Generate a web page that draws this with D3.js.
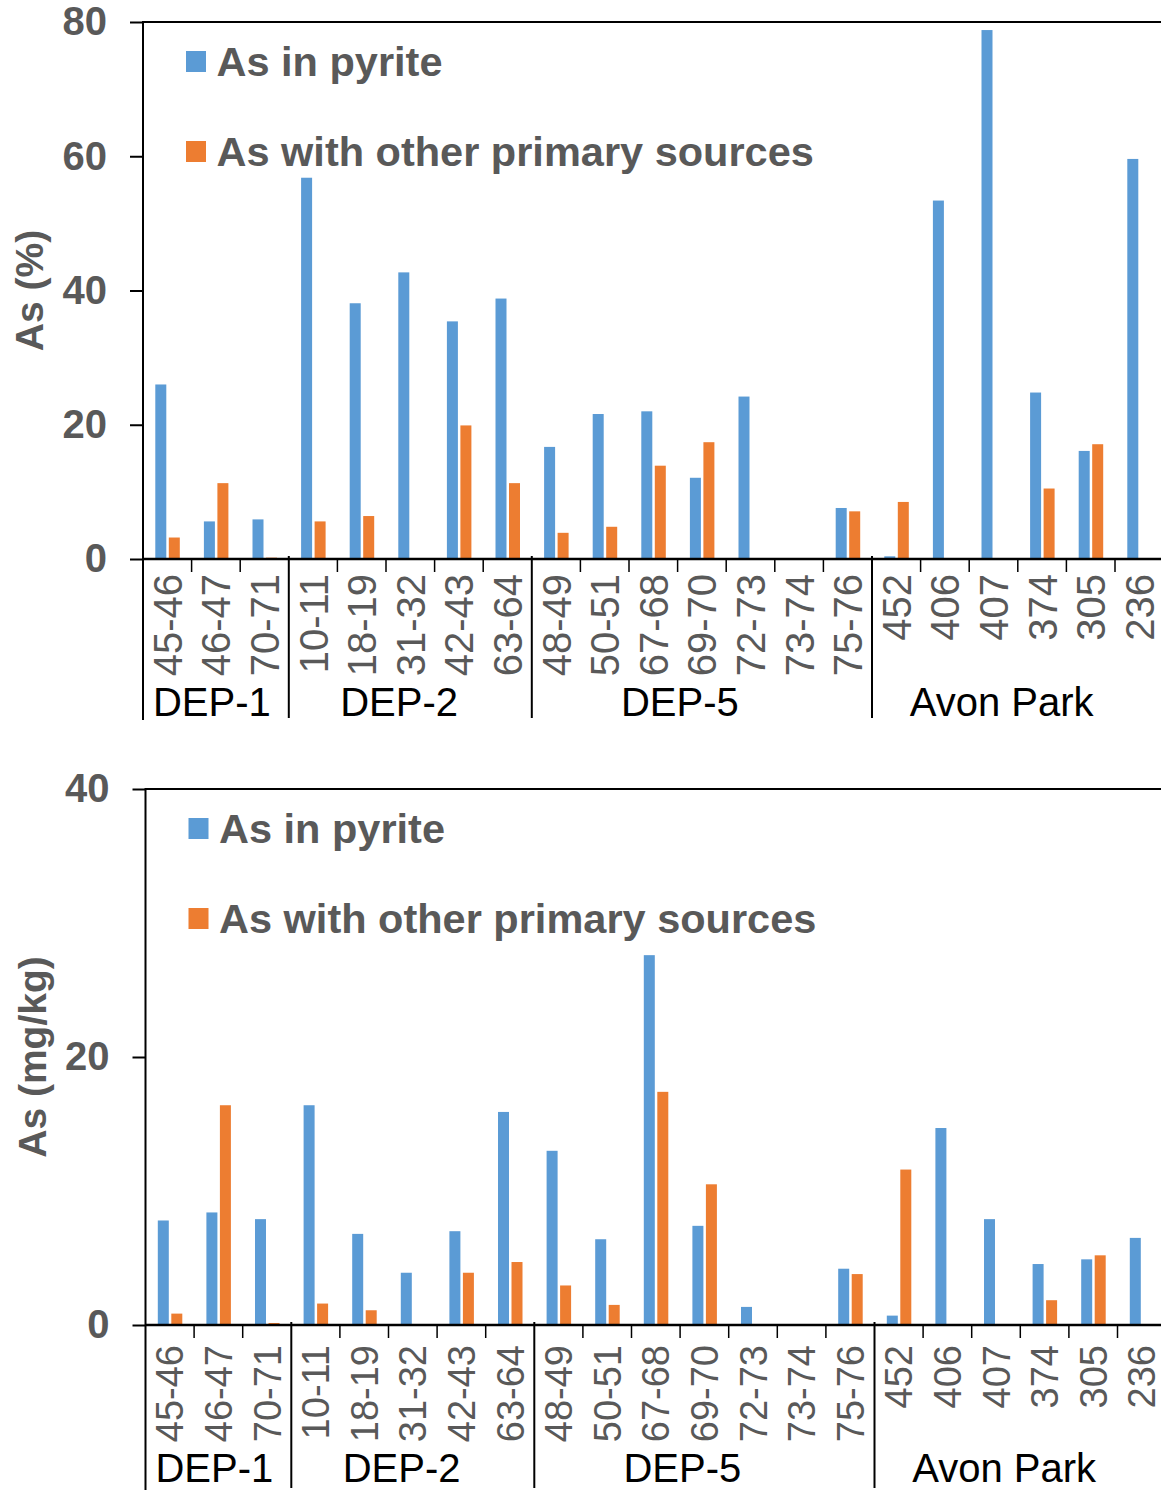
<!DOCTYPE html>
<html>
<head>
<meta charset="utf-8">
<script src="https://cdn.jsdelivr.net/npm/d3@7"></script>
<style>
  html, body { margin: 0; padding: 0; background: #fff; }
  svg { display: block; }
  text { font-family: "Liberation Sans", Arial, sans-serif; }
</style>
</head>
<body>
<svg id="chart" width="1161" height="1494"></svg>
<script>
// Sample intervals (depth, ft) and Avon Park sample IDs
const categories = ["45-46","46-47","70-71","10-11","18-19","31-32","42-43","63-64",
  "48-49","50-51","67-68","69-70","72-73","73-74","75-76",
  "452","406","407","374","305","236"];
const groupNames = ["DEP-1", "DEP-2", "DEP-5", "Avon Park"];
const groupSizes = [3, 5, 7, 6];
const seriesNames = ["As in pyrite", "As with other primary sources"];

// Share of total As (%)
const pctPyrite = [26.0, 5.6, 5.9, 56.8, 38.1, 42.7, 35.4, 38.8, 16.7, 21.6, 22.0, 12.1, 24.2, 0, 7.6, 0.4, 53.4, 78.8, 24.8, 16.1, 59.6];
const pctOther  = [3.2, 11.3, 0.2, 5.6, 6.4, 0, 19.9, 11.3, 3.9, 4.8, 13.9, 17.4, 0, 0, 7.1, 8.5, 0, 0, 10.5, 17.1, 0];

// Concentration (mg/kg)
const mgPyrite = [7.8, 8.4, 7.9, 16.4, 6.8, 3.9, 7.0, 15.9, 13.0, 6.4, 27.6, 7.4, 1.35, 0, 4.2, 0.7, 14.7, 7.9, 4.55, 4.9, 6.5];
const mgOther  = [0.85, 16.4, 0.15, 1.6, 1.1, 0, 3.9, 4.7, 2.95, 1.5, 17.4, 10.5, 0, 0, 3.8, 11.6, 0, 0, 1.85, 5.2, 0];

const pctTicks = [0, 20, 40, 60, 80];
const mgTicks = [0, 20, 40];

const COLORS = ["#5B9BD5", "#ED7D31"];
const GREY = "#595959";

const svg = d3.select("#chart");

const panels = [
  { top: 22, zero: 559, left: 143, max: 80, ticks: pctTicks, lowEnd: 720,
    title: "As (%)", series: [pctPyrite, pctOther], catFont: 40, catGap: 15, groupY: 716 },
  { top: 789, zero: 1325, left: 145.5, max: 40, ticks: mgTicks, lowEnd: 1490,
    title: "As (mg/kg)", series: [mgPyrite, mgOther], catFont: 38, catGap: 20, groupY: 1482 }
];

panels.forEach(p => {
  const g = svg.append("g");
  const band = 48.6;
  const x = d3.scaleBand().domain(categories).range([p.left, p.left + band * categories.length]).padding(0);
  const y = d3.scaleLinear().domain([0, p.max]).range([p.zero, p.top]);
  const bw = x.bandwidth();
  const right = x.range()[1];

  // bars: two series side by side around each band centre
  const offsets = [[-12, 11], [1.5, 11]];
  p.series.forEach((vals, s) => {
    g.append("g").selectAll("rect")
      .data(categories.map((c, i) => ({ c, v: vals[i] })).filter(d => d.v > 0))
      .join("rect")
      .attr("x", d => x(d.c) + bw / 2 + offsets[s][0])
      .attr("width", offsets[s][1])
      .attr("y", d => y(d.v))
      .attr("height", d => y(0) - y(d.v))
      .attr("fill", COLORS[s]);
  });

  // y axis with ticks and labels
  const yAxis = d3.axisLeft(y).tickValues(p.ticks).tickSize(13).tickPadding(23).tickSizeOuter(0);
  const ya = g.append("g").attr("transform", `translate(${p.left},0)`).call(yAxis);
  ya.select(".domain").remove();
  ya.selectAll(".tick line").attr("stroke", "#000").attr("stroke-width", 2);
  ya.selectAll(".tick text")
    .attr("fill", GREY).attr("font-size", 40).attr("font-weight", "bold")
    .style("font-family", '"Liberation Sans", Arial, sans-serif');

  // plot frame: top and right edges, left edge running down through the category labels
  g.append("line").attr("x1", p.left).attr("x2", right).attr("y1", p.top).attr("y2", p.top)
    .attr("stroke", "#000").attr("stroke-width", 2);
  g.append("line").attr("x1", right).attr("x2", right).attr("y1", p.top).attr("y2", p.zero)
    .attr("stroke", "#000").attr("stroke-width", 2);
  g.append("line").attr("x1", p.left).attr("x2", p.left).attr("y1", p.top - 1).attr("y2", p.lowEnd)
    .attr("stroke", "#000").attr("stroke-width", 2);

  // baseline
  g.append("line").attr("x1", p.left).attr("x2", right).attr("y1", y(0)).attr("y2", y(0))
    .attr("stroke", "#000").attr("stroke-width", 2.5);

  // category boundary ticks and group separators
  const groupStarts = [];
  let acc = 0;
  groupSizes.forEach(n => { groupStarts.push(acc); acc += n; });
  categories.forEach((c, i) => {
    if (i === 0) return;
    const isGroup = groupStarts.includes(i);
    g.append("line")
      .attr("x1", x(c)).attr("x2", x(c))
      .attr("y1", isGroup ? y(0) - 3 : y(0))
      .attr("y2", isGroup ? p.lowEnd - 2 : y(0) + 13)
      .attr("stroke", "#000").attr("stroke-width", isGroup ? 2 : 1.5);
  });

  // rotated category labels
  g.append("g").selectAll("text").data(categories).join("text")
    .attr("transform", c => `translate(${x(c) + bw / 2 + p.catFont * 0.36},${y(0) + p.catGap}) rotate(-90)`)
    .attr("text-anchor", "end")
    .attr("font-size", p.catFont)
    .attr("fill", GREY)
    .text(c => c);

  // group labels
  groupNames.forEach((name, k) => {
    const first = categories[groupStarts[k]];
    const last = categories[groupStarts[k] + groupSizes[k] - 1];
    const cx = (x(first) + x(last) + bw) / 2;
    g.append("text")
      .attr("x", cx - 0.45 * groupSizes[k] * groupSizes[k])
      .attr("y", p.groupY)
      .attr("text-anchor", "middle")
      .attr("font-size", 40)
      .attr("fill", "#000")
      .text(name);
  });

  // y-axis title
  g.append("text")
    .attr("transform", `translate(${p.left - 100},${(p.top + p.zero) / 2}) rotate(-90)`)
    .attr("text-anchor", "middle")
    .attr("font-size", 39)
    .attr("font-weight", "bold")
    .attr("fill", GREY)
    .text(p.title);

  // legend
  seriesNames.forEach((name, s) => {
    const ly = p.top + 29 + s * 90;
    g.append("rect").attr("x", p.left + 43).attr("y", ly).attr("width", 20).attr("height", 21)
      .attr("fill", COLORS[s]);
    g.append("text").attr("x", p.left + 73.5).attr("y", ly + 24.5)
      .attr("font-size", 41.5).attr("font-weight", "bold").attr("fill", GREY)
      .text(name);
  });
});
</script>
</body>
</html>
